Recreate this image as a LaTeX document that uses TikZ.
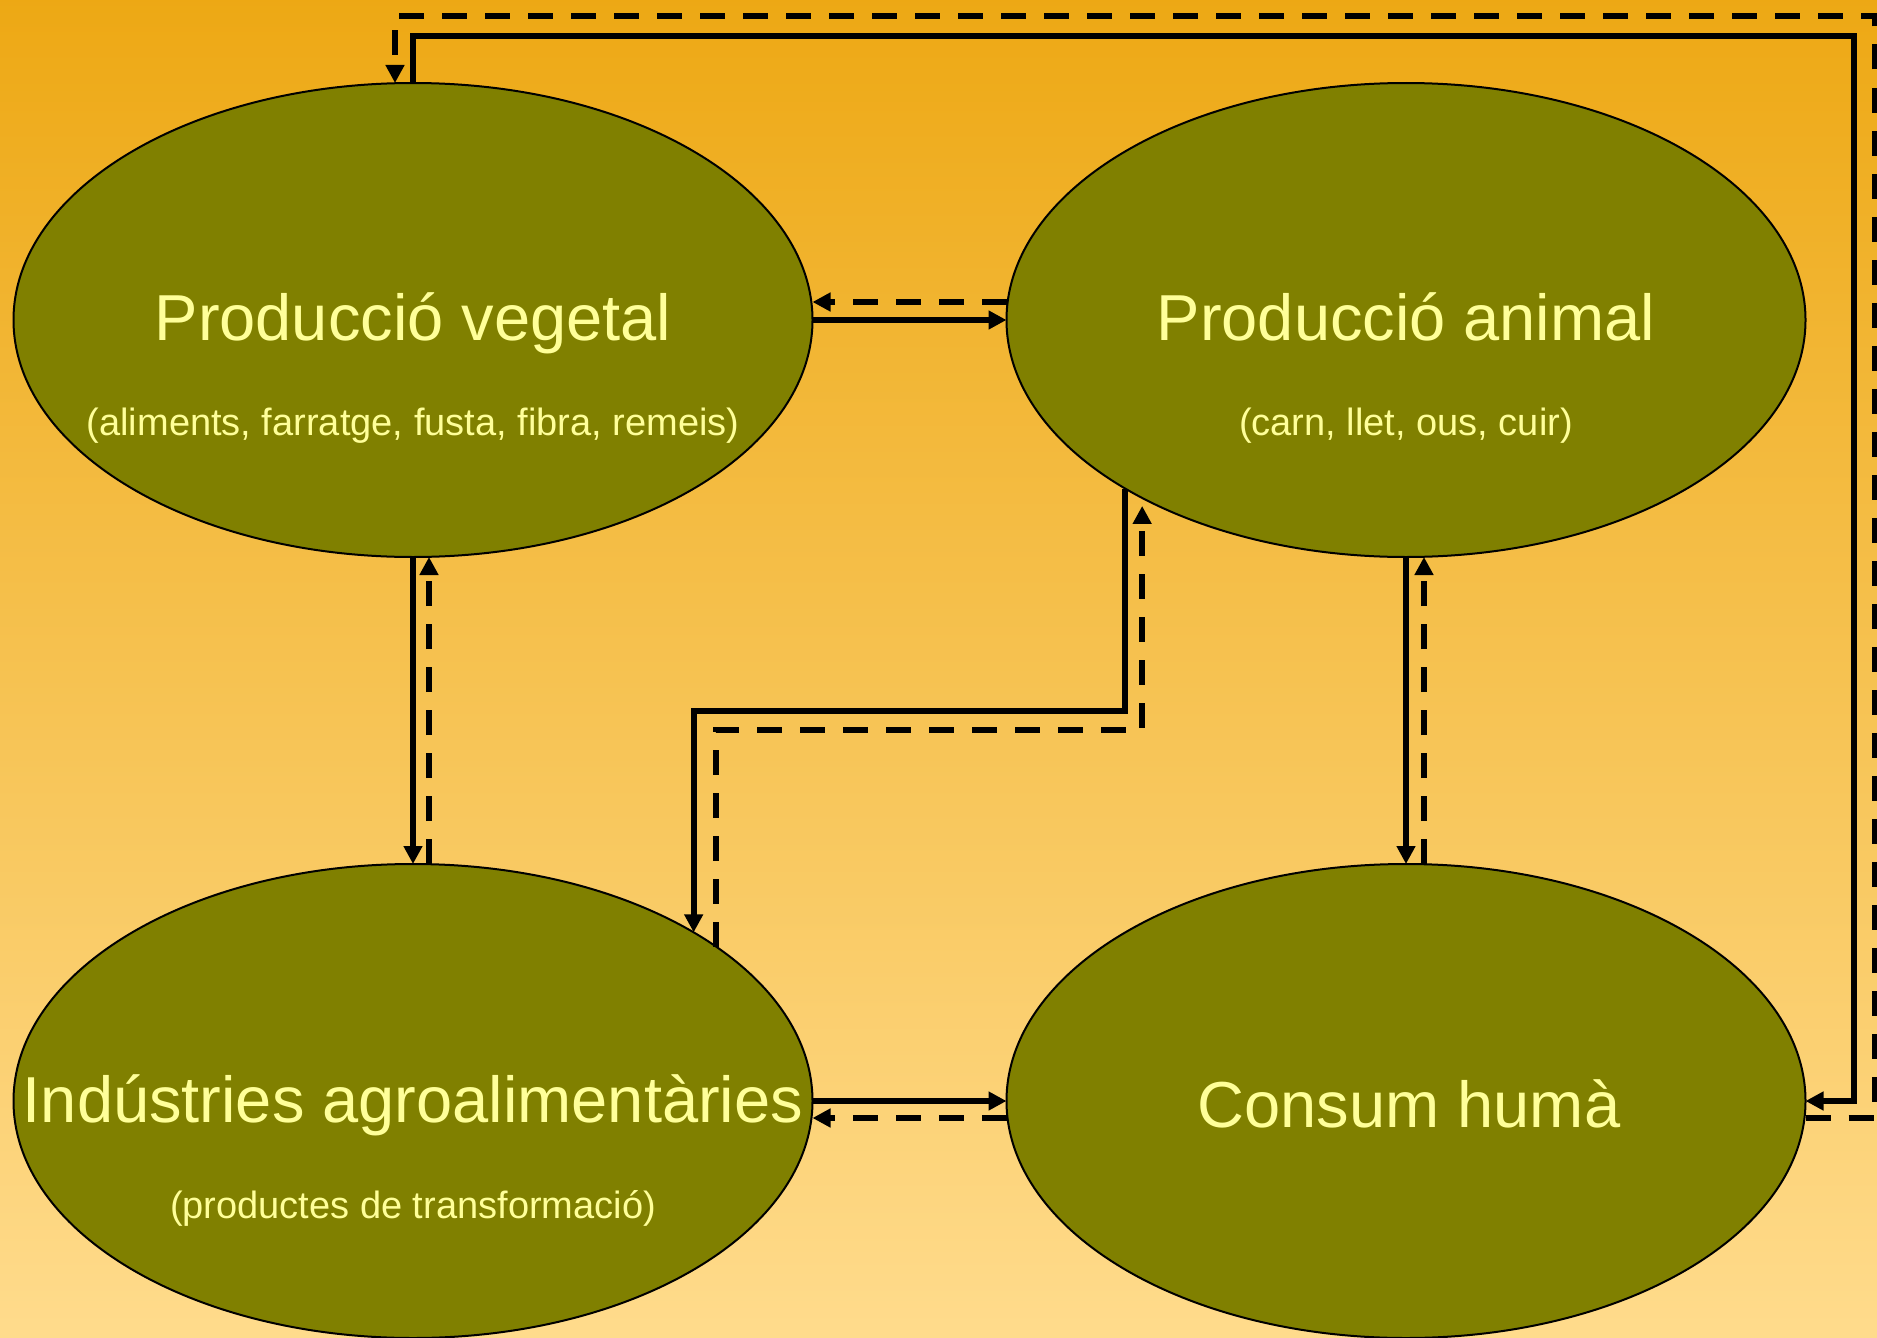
\documentclass[tikz,border=0pt]{standalone}
\usepackage{fontspec}
\setmainfont{Liberation Sans}
\usetikzlibrary{arrows.meta,shapes.geometric}
\definecolor{yqyqqq}{rgb}{0.5,0.5,0}
\definecolor{ffffzz}{rgb}{1,1,0.6}
\definecolor{bgtop}{rgb}{0.93,0.66,0.08}
\definecolor{bgbot}{rgb}{1,0.86,0.55}

\begin{document}
\begin{tikzpicture}[line join=miter,x=1pt,y=-1pt,>={Triangle[length=18pt,width=18pt]},
  field/.style={ellipse,draw=black,line width=2pt,fill=yqyqqq,minimum width=799pt,minimum height=474pt,inner sep=0pt,outer sep=0pt},
  title/.style={anchor=base,text=ffffzz,font=\fontsize{65}{78}\selectfont},
  sub/.style={anchor=base,text=ffffzz,font=\fontsize{38}{46}\selectfont},
  flow/.style={->,line width=6pt},
  back/.style={->,line width=6pt,dash pattern=on 25pt off 18pt}]
\shade[top color=bgtop,bottom color=bgbot] (0,0) rectangle (1877,1338);
\useasboundingbox (0,0) rectangle (1877,1338);
\node[field] (veg) at (413,320) {};
\node[field] (ani) at (1406,320) {};
\node[field] (ind) at (413,1101) {};
\node[field] (con) at (1406,1101) {};
\node[title] (vegt) at (413,340) {Producció vegetal};
\node[sub] (vegs) at (413,435) {(aliments, farratge, fusta, fibra, remeis)};
\node[title] (anit) at (1406,340) {Producció animal};
\node[sub] (anis) at (1406,435) {(carn, llet, ous, cuir)};
\node[title] (indt) at (413,1122) {Indústries agroalimentàries};
\node[sub] (inds) at (413,1218) {(productes de transformació)};
\node[title] (cont) at (1409,1127) {Consum humà};
\coordinate (topA) at (1854,36);
\coordinate (topB) at (1875,16);
\coordinate (midA) at (0,711);
\coordinate (midB) at (0,730);
\draw[flow] (veg.north) |- (topA) |- (con.east);
\draw[back] ([yshift=-17pt]con.east) -| (topB) -| ([xshift=-18pt]veg.north);
\draw[flow] (veg.east) -- (ani.west);
\draw[back] ([yshift=18pt]ani.west) -- ([yshift=18pt]veg.east);
\draw[flow] (veg.south) -- (ind.north);
\draw[back] ([xshift=16pt]ind.north) -- ([xshift=16pt]veg.south);
\draw[flow] (ani.south) -- (con.north);
\draw[back] ([xshift=18pt]con.north) -- ([xshift=18pt]ani.south);
\draw[flow] (ind.east) -- (con.west);
\draw[back] ([yshift=-17pt]con.west) -- ([yshift=-17pt]ind.east);
\draw[flow] (ani.211.3) -- (ani.211.3 |- midA) -| (ind.31);
\draw[back,shorten >=8pt] (ind.27) -- (ind.27 |- midB) -| (ani.214.9);
\end{tikzpicture}
\end{document}
